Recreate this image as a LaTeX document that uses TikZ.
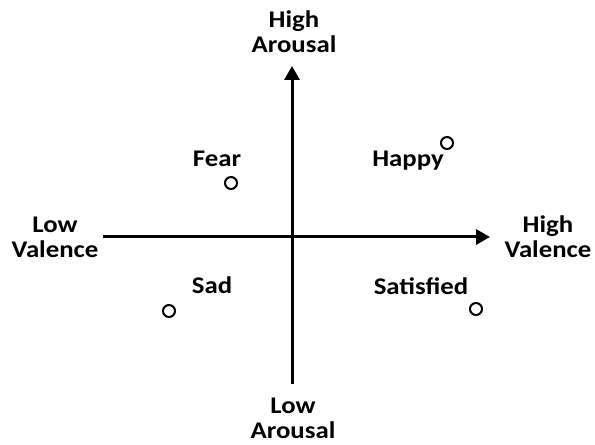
\documentclass[tikz,border=0pt]{standalone}
\usepackage{fontspec}
\setmainfont{Carlito}[FakeStretch=1.12]
\usetikzlibrary{arrows.meta}

\begin{document}
\begin{tikzpicture}[
  x=1bp, y=-1bp,
  font=\fontsize{24}{25}\selectfont\bfseries,
  >={Triangle[length=14bp,width=15bp]},
  axis/.style={->, line width=3bp},
  endlbl/.style={align=center, inner sep=0pt},
  emo/.style={inner sep=0pt, anchor=base},
  pt/.style={circle, draw, line width=2bp, minimum size=12bp, inner sep=0pt}
]
  \useasboundingbox (0,0) rectangle (595,445);

  % Axes
  \coordinate (west) at (103,237);
  \coordinate (east) at (490,237);
  \coordinate (south) at (292,384);
  \coordinate (north) at (292,66);
  \draw[axis] (west) -- (east);
  \draw[axis] (south) -- (north);

  % Axis ends
  \node[endlbl] (hiar) at (294,32) {High\\Arousal};
  \node[endlbl] (loar) at (293,418) {Low\\Arousal};
  \node[endlbl] (lova) at (55,237) {Low\\Valence};
  \node[endlbl] (hiva) at (548,237) {High\\Valence};

  % Emotions
  \node[emo] (fear) at (217,167) {Fear};
  \node[emo] (happy) at (408,167) {Happy};
  \node[emo] (sad) at (212,294) {Sad};
  \node[emo] (satisfied) at (421,295) {Satisfied};

  \node[pt] (fearpt) at (231,183) {};
  \node[pt] (happypt) at (447,143) {};
  \node[pt] (sadpt) at (169,311) {};
  \node[pt] (satisfiedpt) at (476,309) {};

\end{tikzpicture}
\end{document}
